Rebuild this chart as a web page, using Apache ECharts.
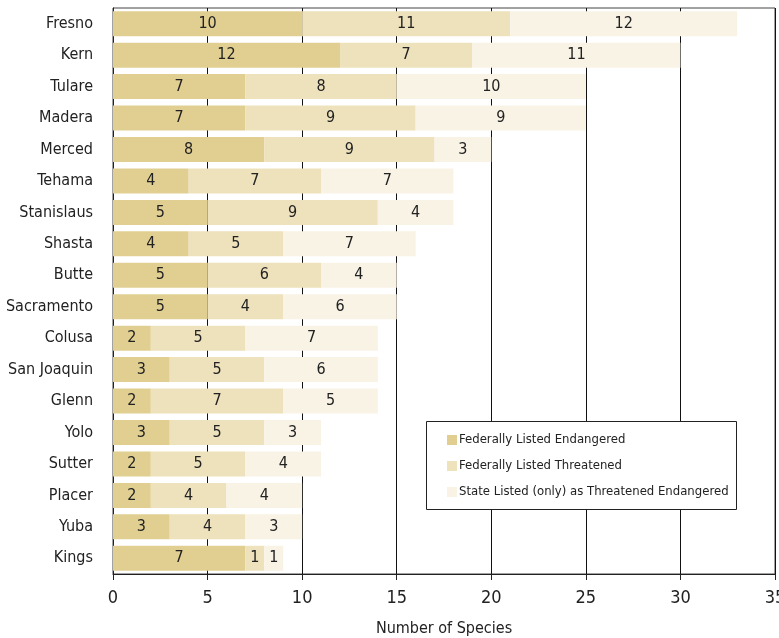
<!DOCTYPE html>
<html>
<head>
<meta charset="utf-8">
<script src="https://cdn.jsdelivr.net/npm/echarts@6/dist/echarts.min.js"></script>
<style>
html,body{margin:0;padding:0;background:#fff;}
#chart{width:779px;height:638px;}
</style>
</head>
<body>
<div id="chart"></div>
<script>
const counties = ['Fresno','Kern','Tulare','Madera','Merced','Tehama','Stanislaus','Shasta','Butte','Sacramento','Colusa','San Joaquin','Glenn','Yolo','Sutter','Placer','Yuba','Kings'];
const fedEndangered = [10,12,7,7,8,4,5,4,5,5,2,3,2,3,2,2,3,7];
const fedThreatened = [11,7,8,9,9,7,9,5,6,4,5,5,7,5,5,4,4,1];
const stateListed  = [12,11,10,9,3,7,4,7,4,6,7,6,5,3,4,4,3,1];
const seriesNames = ['Federally Listed Endangered','Federally Listed Threatened','State Listed (only) as Threatened Endangered'];
const seriesColors = ['#e1cf92','#eee2bc','#f8f3e5'];

const FONT = '"Liberation Sans Narrow","DejaVu Sans Condensed",sans-serif';

const chart = echarts.init(document.getElementById('chart'));

function makeSeries(name, data, color) {
  return {
    name: name,
    type: 'bar',
    stack: 'total',
    data: data,
    barWidth: 25,
    itemStyle: { color: color },
    label: {
      show: true,
      position: 'inside',
      color: '#222',
      fontFamily: FONT,
      fontSize: 16
    },
    emphasis: { disabled: true }
  };
}

chart.setOption({
  animation: false,
  backgroundColor: '#fff',
  grid: {
    left: 113, right: 4, top: 8, bottom: 64,
    containLabel: false,
    outerBoundsMode: 'none',
    show: true, borderColor: '#444', borderWidth: 1, backgroundColor: 'transparent'
  },
  graphic: [{
    type: 'rect',
    shape: { x: 426.5, y: 421.5, width: 310, height: 88 },
    style: { fill: '#fff', stroke: '#222', lineWidth: 1 },
    z: 10
  }],
  legend: {
    orient: 'vertical',
    left: 442, top: 428,
    padding: 5,
    itemWidth: 10, itemHeight: 10,
    itemGap: 12,
    icon: 'rect',
    z: 11,
    textStyle: { fontFamily: FONT, fontSize: 13, lineHeight: 14, color: '#222', padding: [0,0,0,-3] },
    data: seriesNames
  },
  xAxis: {
    type: 'value',
    min: 0, max: 35, interval: 5,
    name: 'Number of Species',
    nameLocation: 'middle',
    nameGap: 47,
    nameTextStyle: { fontFamily: FONT, fontSize: 16, color: '#222' },
    axisLine: { show: true, lineStyle: { color: '#222', width: 1 } },
    axisTick: { show: true, length: 6, lineStyle: { color: '#222' } },
    axisLabel: { fontFamily: FONT, fontSize: 18, color: '#222', margin: 15 },
    splitLine: { show: true, lineStyle: { color: '#111', width: 1 } }
  },
  yAxis: {
    type: 'category',
    inverse: true,
    data: counties,
    axisLine: { show: true, lineStyle: { color: '#222', width: 1 } },
    axisTick: { show: false },
    axisLabel: { fontFamily: FONT, fontSize: 16, color: '#222', margin: 20 }
  },
  series: [
    makeSeries(seriesNames[0], fedEndangered, seriesColors[0]),
    makeSeries(seriesNames[1], fedThreatened, seriesColors[1]),
    makeSeries(seriesNames[2], stateListed, seriesColors[2])
  ]
});
</script>
</body>
</html>
